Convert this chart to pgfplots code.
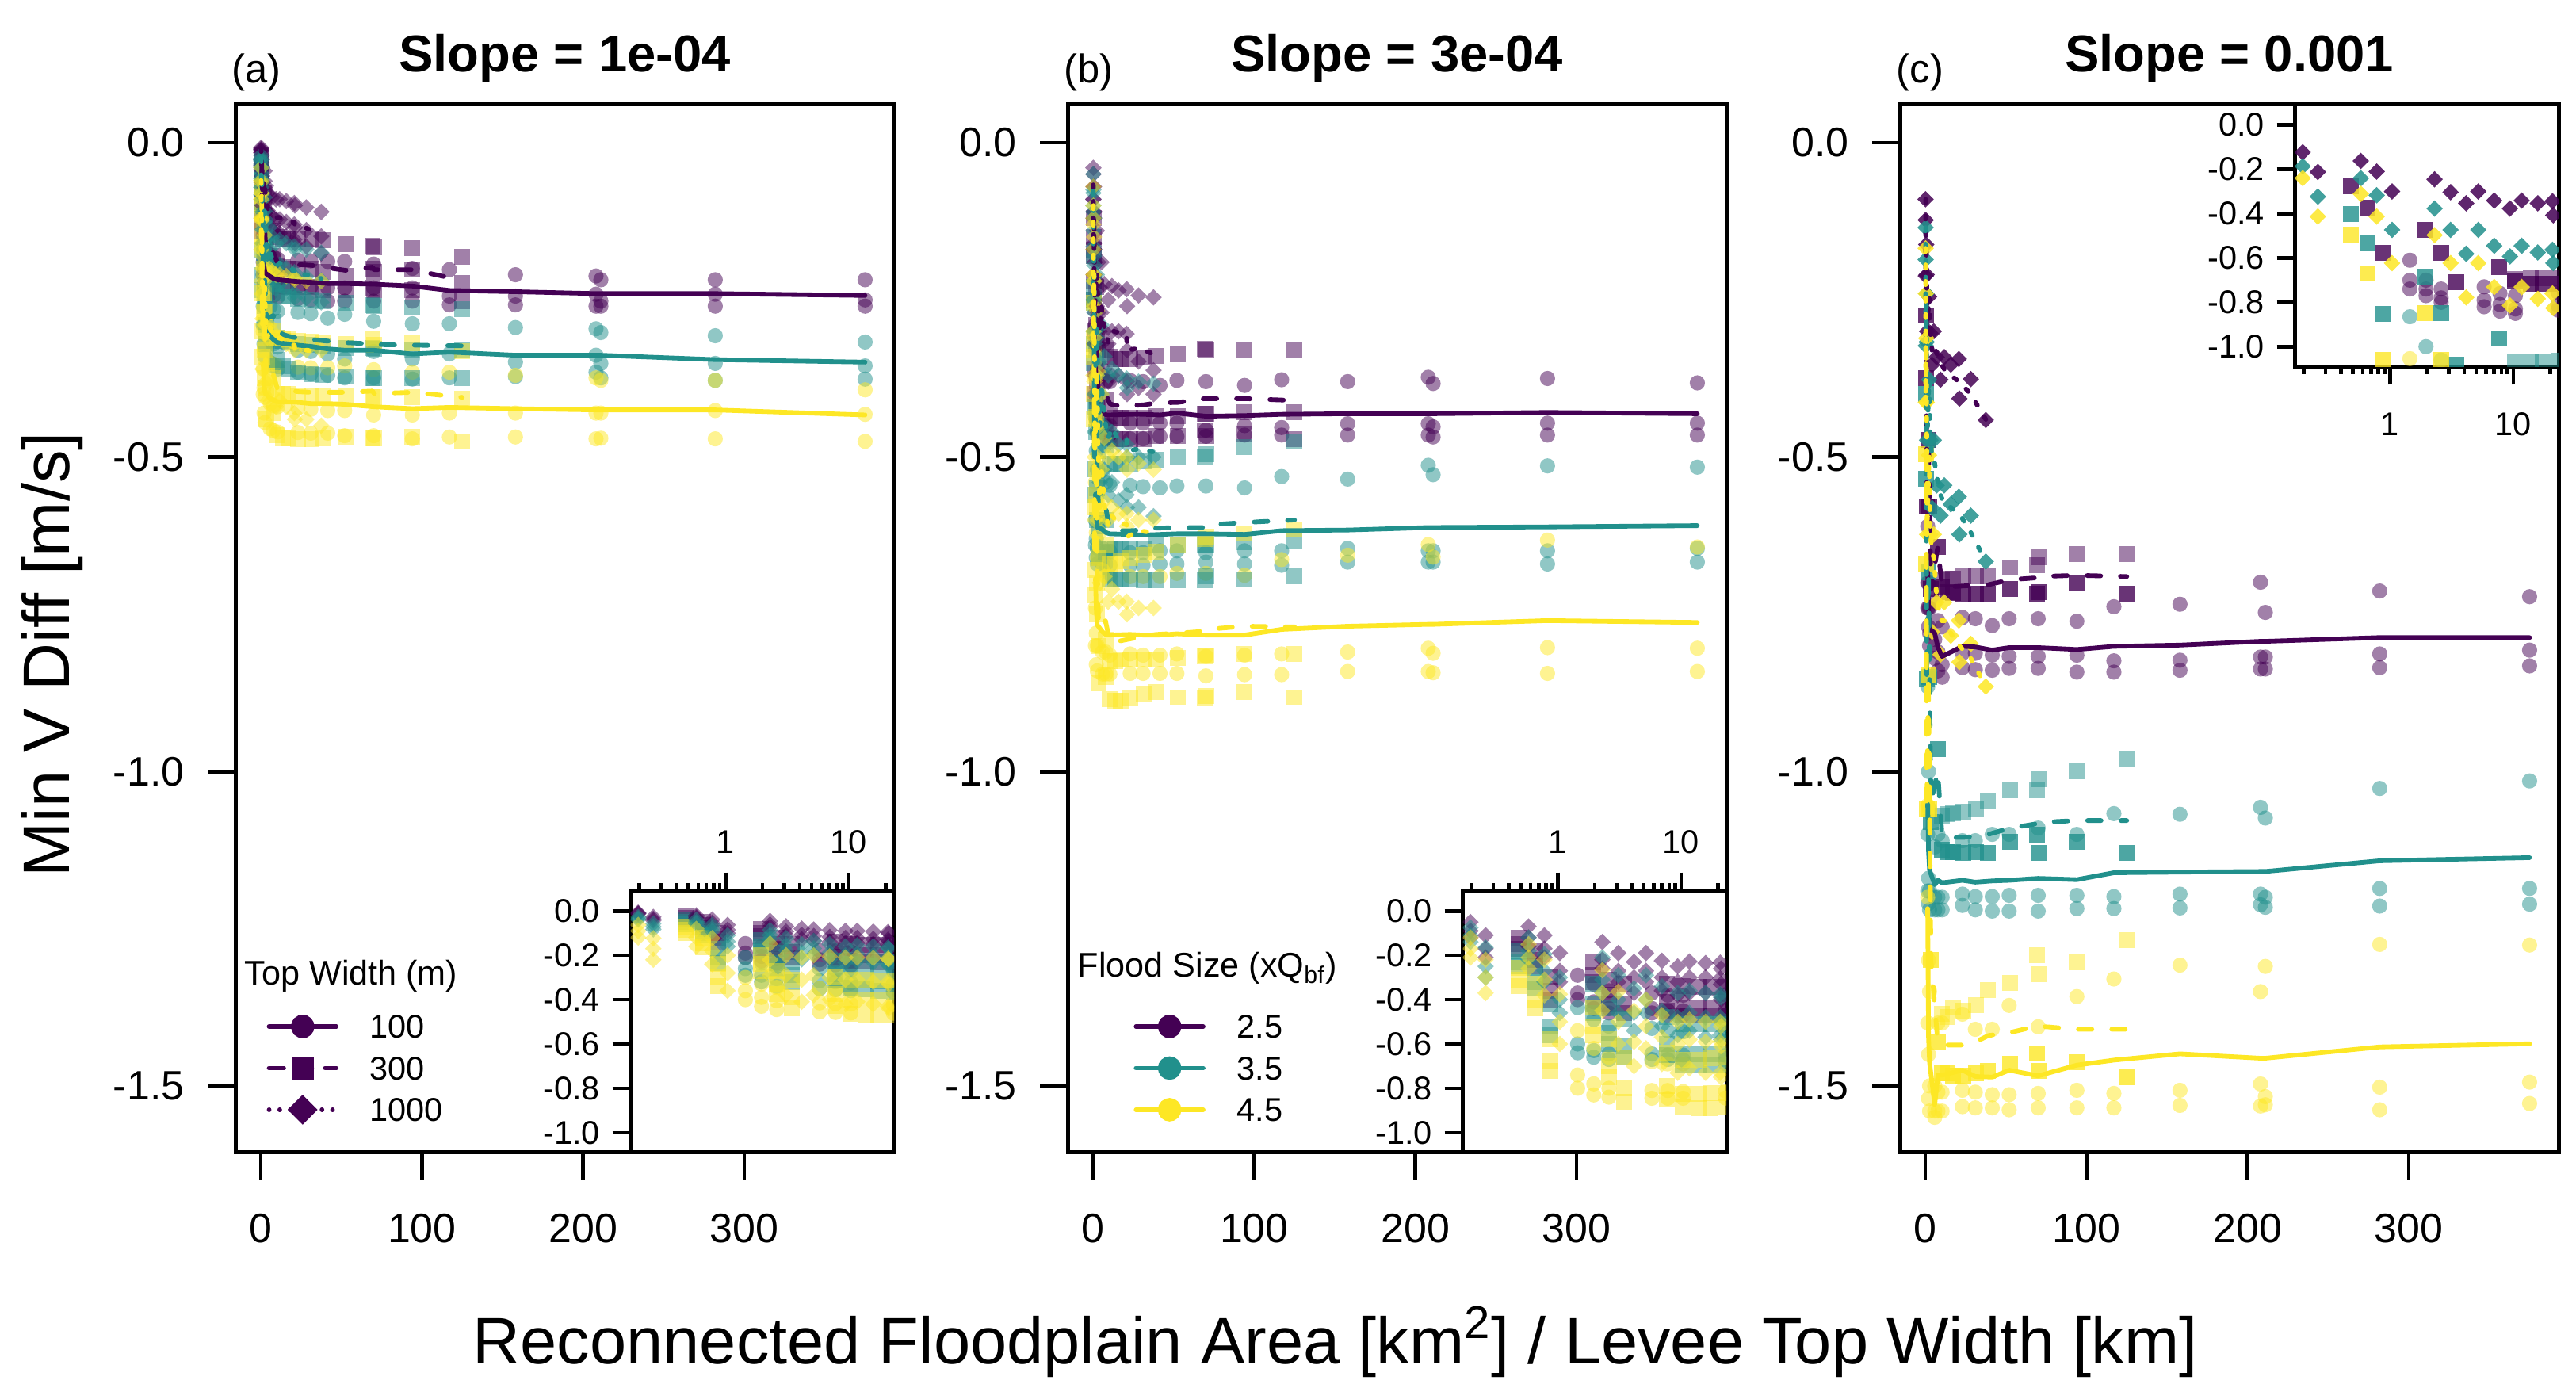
\documentclass[border=0pt]{standalone}
\usepackage{fontspec}
\setmainfont{Liberation Sans}
\usepackage{pgfplots}
\usepackage{pgfplotstable}
\pgfplotsset{compat=1.18}
\definecolor{vpurple}{HTML}{440154}
\definecolor{vteal}{HTML}{21908C}
\definecolor{vyellow}{HTML}{FDE725}

% ---------------- Panel (a): slope 1e-04 ----------------
\pgfplotstableread{
x p1 p2 p3 pl t1 t2 t3 tl y1 y2 y3 yl
1.45 -0.147 -0.19 -0.21 -0.182 -0.21 -0.26 -0.29 -0.253 -0.30 -0.36 -0.40 -0.353
1.96 -0.16 -0.205 -0.225 -0.197 -0.235 -0.29 -0.32 -0.282 -0.33 -0.39 -0.43 -0.383
2.6 -0.172 -0.215 -0.235 -0.207 -0.25 -0.305 -0.34 -0.298 -0.345 -0.405 -0.445 -0.398
5.8 -0.178 -0.22 -0.24 -0.213 -0.26 -0.315 -0.35 -0.308 -0.35 -0.415 -0.455 -0.407
7.8 -0.182 -0.222 -0.243 -0.216 -0.265 -0.32 -0.355 -0.313 -0.352 -0.418 -0.458 -0.409
10.4 -0.185 -0.225 -0.245 -0.218 -0.268 -0.325 -0.36 -0.318 -0.355 -0.42 -0.46 -0.412
23 -0.187 -0.228 -0.248 -0.221 -0.27 -0.33 -0.365 -0.322 -0.357 -0.422 -0.461 -0.413
31 -0.188 -0.229 -0.25 -0.222 -0.272 -0.332 -0.368 -0.324 -0.358 -0.424 -0.462 -0.415
41.5 -0.189 -0.231 -0.252 -0.224 -0.279 -0.336 -0.37 -0.328 -0.358 -0.426 -0.462 -0.415
52 -0.189 -0.231 -0.252 -0.224 -0.273 -0.344 -0.374 -0.33 -0.355 -0.426 -0.466 -0.416
70 -0.193 -0.231 -0.252 -0.225 -0.284 -0.332 -0.374 -0.33 -0.361 -0.433 -0.466 -0.42
94 -0.20 -0.231 -0.252 -0.228 -0.288 -0.344 -0.376 -0.336 -0.365 -0.433 -0.471 -0.423
117 -0.202 -0.244 -0.258 -0.235 -0.288 -0.336 -0.374 -0.333 -0.365 -0.43 -0.468 -0.421
158 -0.21 -0.244 -0.258 -0.237 -0.294 -0.349 -0.372 -0.338 -0.37 -0.43 -0.468 -0.423
208 -0.212 -0.241 -0.26 -0.24 -0.296 -0.338 -0.365 -0.338 -0.374 -0.43 -0.471 -0.425
211 -0.218 -0.252 -0.26 -0.24 -0.302 -0.351 -0.374 -0.338 -0.378 -0.43 -0.47 -0.425
282 -0.218 -0.241 -0.26 -0.24 -0.307 -0.351 -0.378 -0.345 -0.378 -0.426 -0.471 -0.425
375 -0.218 -0.25 -0.26 -0.243 -0.317 -0.355 -0.376 -0.349 -0.393 -0.432 -0.475 -0.433
}\aC
\pgfplotstableread{
x p1 p2 p3 pl t1 t2 t3 tl y1 y2 y3 yl
0.483 -0.02 -0.03 -0.04 -0.03 -0.04 -0.05 -0.06 -0.05 -0.07 -0.085 -0.10 -0.085
0.653 -0.05 -0.065 -0.075 -0.063 -0.08 -0.10 -0.11 -0.097 -0.12 -0.145 -0.165 -0.143
0.867 -0.10 -0.125 -0.14 -0.122 -0.17 -0.21 -0.235 -0.205 -0.24 -0.30 -0.34 -0.293
1.93 -0.08 -0.10 -0.115 -0.098 -0.13 -0.16 -0.18 -0.157 -0.20 -0.24 -0.27 -0.237
2.6 -0.12 -0.15 -0.17 -0.147 -0.19 -0.235 -0.26 -0.228 -0.27 -0.33 -0.375 -0.325
3.47 -0.15 -0.185 -0.21 -0.182 -0.23 -0.29 -0.32 -0.28 -0.31 -0.39 -0.44 -0.38
7.67 -0.14 -0.18 -0.205 -0.175 -0.225 -0.285 -0.315 -0.275 -0.30 -0.375 -0.43 -0.368
10.3 -0.15 -0.195 -0.225 -0.19 -0.24 -0.31 -0.345 -0.298 -0.31 -0.40 -0.465 -0.392
13.8 -0.152 -0.198 -0.228 -0.193 -0.245 -0.315 -0.355 -0.305 -0.312 -0.40 -0.47 -0.394
17.3 -0.152 -0.20 -0.23 -0.194 -0.245 -0.318 -0.36 -0.308 -0.313 -0.40 -0.47 -0.394
23.3 -0.153 -0.20 -0.23 -0.194 -0.248 -0.32 -0.365 -0.311 -0.315 -0.402 -0.472 -0.396
31.3 -0.154 -0.20 -0.23 -0.195 -0.25 -0.322 -0.368 -0.313 -0.316 -0.402 -0.472 -0.397
39 -0.155 -0.205 -0.235 -0.198 -0.252 -0.324 -0.37 -0.315 -0.318 -0.402 -0.47 -0.397
52.7 -0.162 -0.212 -0.235 -0.203 -0.255 -0.326 -0.372 -0.318 -0.32 -0.404 -0.468 -0.397
69.3 -0.164 -0.20 -0.231 -0.198 -0.258 -0.327 -0.374 -0.32 -0.311 -0.405 -0.47 -0.395
70.3 -0.166 -0.205 -0.235 -0.202 -0.26 -0.328 -0.374 -0.321 -0.322 -0.405 -0.47 -0.399
94 -0.168 -0.202 -0.235 -0.202 -0.262 -0.33 -0.374 -0.322 -0.319 -0.405 -0.468 -0.397
125 -0.181 -0.223 -0.252 -0.219 -0.265 -0.33 -0.374 -0.323 -0.332 -0.407 -0.475 -0.405
}\aS
\pgfplotstableread{
x p1 p2 p3 pl t1 t2 t3 tl y1 y2 y3 yl
0.145 -0.01 -0.013 -0.016 -0.013 -0.02 -0.025 -0.029 -0.025 -0.04 -0.06 -0.08 -0.06
0.196 -0.008 -0.011 -0.013 -0.011 -0.027 -0.034 -0.039 -0.033 -0.063 -0.09 -0.12 -0.091
0.26 -0.027 -0.036 -0.043 -0.035 -0.057 -0.071 -0.083 -0.07 -0.123 -0.17 -0.22 -0.171
0.58 -0.02 -0.027 -0.032 -0.026 -0.04 -0.05 -0.058 -0.049 -0.081 -0.12 -0.16 -0.12
0.78 -0.039 -0.053 -0.062 -0.051 -0.063 -0.079 -0.091 -0.078 -0.123 -0.18 -0.24 -0.181
1.04 -0.063 -0.085 -0.10 -0.083 -0.11 -0.138 -0.16 -0.136 -0.20 -0.28 -0.36 -0.28
2.3 -0.045 -0.061 -0.072 -0.059 -0.087 -0.109 -0.126 -0.107 -0.147 -0.22 -0.29 -0.219
3.1 -0.069 -0.093 -0.11 -0.091 -0.123 -0.154 -0.178 -0.152 -0.20 -0.29 -0.38 -0.29
4.15 -0.08 -0.108 -0.128 -0.105 -0.15 -0.188 -0.218 -0.185 -0.21 -0.31 -0.41 -0.31
5.2 -0.084 -0.113 -0.134 -0.11 -0.135 -0.169 -0.196 -0.167 -0.20 -0.29 -0.38 -0.29
7.0 -0.087 -0.117 -0.139 -0.114 -0.15 -0.188 -0.218 -0.185 -0.205 -0.30 -0.40 -0.302
9.4 -0.09 -0.122 -0.144 -0.119 -0.16 -0.20 -0.232 -0.197 -0.21 -0.31 -0.42 -0.313
11.7 -0.09 -0.122 -0.144 -0.119 -0.155 -0.194 -0.225 -0.191 -0.21 -0.31 -0.41 -0.31
15.8 -0.093 -0.126 -0.149 -0.123 -0.16 -0.20 -0.232 -0.197 -0.212 -0.32 -0.42 -0.317
20.8 -0.096 -0.13 -0.154 -0.127 -0.165 -0.206 -0.239 -0.203 -0.215 -0.32 -0.43 -0.322
21.1 -0.10 -0.135 -0.16 -0.132 -0.17 -0.213 -0.247 -0.21 -0.218 -0.33 -0.44 -0.329
28.2 -0.103 -0.139 -0.165 -0.136 -0.17 -0.213 -0.247 -0.21 -0.22 -0.33 -0.44 -0.33
37.5 -0.11 -0.149 -0.176 -0.145 -0.175 -0.219 -0.254 -0.216 -0.22 -0.33 -0.45 -0.333
}\aD

% ---------------- Panel (b): slope 3e-04 ----------------
\pgfplotstableread{
x p1 p2 p3 pl t1 t2 t3 tl y1 y2 y3 yl
1.45 -0.29 -0.37 -0.40 -0.353 -0.436 -0.60 -0.64 -0.559 -0.54 -0.74 -0.80 -0.693
1.96 -0.33 -0.41 -0.44 -0.393 -0.49 -0.63 -0.66 -0.593 -0.62 -0.78 -0.83 -0.743
2.6 -0.36 -0.44 -0.46 -0.42 -0.52 -0.645 -0.67 -0.612 -0.66 -0.80 -0.84 -0.767
5.8 -0.37 -0.44 -0.46 -0.423 -0.53 -0.645 -0.67 -0.615 -0.68 -0.81 -0.845 -0.778
7.8 -0.38 -0.45 -0.47 -0.433 -0.54 -0.65 -0.67 -0.62 -0.69 -0.81 -0.845 -0.782
10.4 -0.38 -0.45 -0.47 -0.433 -0.545 -0.65 -0.672 -0.622 -0.69 -0.815 -0.845 -0.783
23 -0.378 -0.446 -0.471 -0.432 -0.545 -0.652 -0.672 -0.623 -0.69 -0.813 -0.844 -0.782
31 -0.38 -0.446 -0.471 -0.432 -0.547 -0.652 -0.672 -0.624 -0.69 -0.815 -0.844 -0.783
41.5 -0.386 -0.446 -0.467 -0.433 -0.549 -0.649 -0.67 -0.623 -0.69 -0.815 -0.844 -0.783
52 -0.378 -0.446 -0.467 -0.43 -0.546 -0.649 -0.67 -0.622 -0.685 -0.813 -0.844 -0.781
70 -0.38 -0.457 -0.467 -0.435 -0.546 -0.652 -0.667 -0.622 -0.685 -0.817 -0.848 -0.783
94 -0.386 -0.45 -0.465 -0.434 -0.549 -0.649 -0.67 -0.623 -0.688 -0.815 -0.846 -0.783
117 -0.377 -0.453 -0.465 -0.432 -0.531 -0.649 -0.672 -0.617 -0.663 -0.813 -0.846 -0.774
158 -0.38 -0.447 -0.465 -0.431 -0.535 -0.645 -0.667 -0.616 -0.656 -0.81 -0.841 -0.769
208 -0.373 -0.447 -0.465 -0.431 -0.513 -0.649 -0.667 -0.612 -0.639 -0.804 -0.841 -0.766
211 -0.383 -0.452 -0.468 -0.431 -0.528 -0.649 -0.667 -0.612 -0.659 -0.812 -0.843 -0.766
282 -0.375 -0.446 -0.465 -0.429 -0.514 -0.649 -0.67 -0.611 -0.632 -0.803 -0.844 -0.76
375 -0.382 -0.446 -0.465 -0.431 -0.516 -0.645 -0.667 -0.609 -0.643 -0.804 -0.841 -0.763
}\bC
\pgfplotstableread{
x p1 p2 p3 pl t1 t2 t3 tl y1 y2 y3 yl
0.483 -0.12 -0.15 -0.17 -0.147 -0.18 -0.23 -0.25 -0.22 -0.255 -0.31 -0.34 -0.302
0.653 -0.18 -0.22 -0.25 -0.217 -0.255 -0.32 -0.35 -0.308 -0.33 -0.40 -0.44 -0.39
0.867 -0.30 -0.36 -0.40 -0.353 -0.42 -0.52 -0.56 -0.50 -0.58 -0.68 -0.72 -0.66
1.93 -0.23 -0.29 -0.32 -0.28 -0.33 -0.42 -0.46 -0.403 -0.436 -0.52 -0.56 -0.505
2.6 -0.31 -0.38 -0.42 -0.37 -0.44 -0.55 -0.60 -0.53 -0.58 -0.70 -0.75 -0.677
3.47 -0.33 -0.42 -0.46 -0.403 -0.49 -0.61 -0.66 -0.587 -0.66 -0.80 -0.86 -0.773
7.67 -0.33 -0.41 -0.45 -0.397 -0.48 -0.60 -0.65 -0.577 -0.64 -0.79 -0.85 -0.76
10.3 -0.34 -0.435 -0.47 -0.415 -0.51 -0.645 -0.695 -0.617 -0.67 -0.825 -0.885 -0.793
13.8 -0.344 -0.438 -0.471 -0.418 -0.51 -0.645 -0.695 -0.617 -0.67 -0.825 -0.888 -0.794
17.3 -0.344 -0.438 -0.471 -0.418 -0.51 -0.645 -0.695 -0.617 -0.665 -0.822 -0.888 -0.792
23.3 -0.344 -0.438 -0.471 -0.418 -0.51 -0.645 -0.695 -0.617 -0.66 -0.822 -0.884 -0.789
31.3 -0.342 -0.438 -0.471 -0.417 -0.507 -0.645 -0.696 -0.616 -0.655 -0.822 -0.878 -0.785
39 -0.339 -0.435 -0.467 -0.414 -0.504 -0.64 -0.696 -0.613 -0.65 -0.822 -0.873 -0.782
52.7 -0.337 -0.435 -0.467 -0.413 -0.499 -0.64 -0.696 -0.612 -0.64 -0.819 -0.882 -0.78
69.3 -0.328 -0.431 -0.457 -0.407 -0.499 -0.64 -0.696 -0.612 -0.63 -0.817 -0.884 -0.777
70.3 -0.33 -0.431 -0.467 -0.407 -0.495 -0.64 -0.69 -0.608 -0.626 -0.815 -0.88 -0.774
94 -0.33 -0.428 -0.464 -0.407 -0.484 -0.635 -0.694 -0.604 -0.621 -0.813 -0.873 -0.769
125 -0.33 -0.428 -0.471 -0.41 -0.475 -0.634 -0.69 -0.60 -0.615 -0.813 -0.882 -0.77
}\bS
\pgfplotstableread{
x p1 p2 p3 pl t1 t2 t3 tl y1 y2 y3 yl
0.145 -0.04 -0.07 -0.09 -0.067 -0.05 -0.08 -0.10 -0.077 -0.07 -0.10 -0.13 -0.10
0.196 -0.05 -0.09 -0.12 -0.087 -0.075 -0.11 -0.14 -0.108 -0.12 -0.17 -0.21 -0.167
0.26 -0.11 -0.17 -0.21 -0.163 -0.165 -0.25 -0.30 -0.238 -0.22 -0.30 -0.37 -0.297
0.58 -0.07 -0.12 -0.16 -0.117 -0.12 -0.18 -0.22 -0.173 -0.15 -0.21 -0.26 -0.207
0.78 -0.11 -0.17 -0.21 -0.163 -0.195 -0.27 -0.32 -0.262 -0.22 -0.31 -0.38 -0.303
1.04 -0.19 -0.27 -0.32 -0.26 -0.30 -0.40 -0.46 -0.387 -0.376 -0.50 -0.60 -0.492
2.3 -0.14 -0.22 -0.26 -0.207 -0.21 -0.31 -0.37 -0.297 -0.267 -0.37 -0.45 -0.362
3.1 -0.19 -0.27 -0.32 -0.26 -0.29 -0.40 -0.46 -0.383 -0.364 -0.50 -0.60 -0.488
4.15 -0.23 -0.30 -0.37 -0.30 -0.35 -0.46 -0.54 -0.45 -0.45 -0.59 -0.70 -0.58
5.2 -0.19 -0.27 -0.32 -0.26 -0.29 -0.40 -0.46 -0.383 -0.40 -0.52 -0.62 -0.513
7.0 -0.225 -0.30 -0.36 -0.295 -0.34 -0.45 -0.52 -0.437 -0.47 -0.57 -0.69 -0.577
9.4 -0.25 -0.32 -0.38 -0.317 -0.37 -0.48 -0.56 -0.47 -0.50 -0.60 -0.73 -0.61
11.7 -0.228 -0.30 -0.37 -0.299 -0.36 -0.46 -0.54 -0.453 -0.49 -0.58 -0.71 -0.593
15.8 -0.235 -0.30 -0.37 -0.302 -0.37 -0.48 -0.569 -0.473 -0.50 -0.59 -0.73 -0.607
20.8 -0.233 -0.304 -0.38 -0.306 -0.375 -0.48 -0.56 -0.472 -0.50 -0.59 -0.73 -0.607
21.1 -0.26 -0.33 -0.40 -0.33 -0.39 -0.50 -0.58 -0.49 -0.52 -0.61 -0.75 -0.627
28.2 -0.243 -0.348 -0.39 -0.327 -0.38 -0.50 -0.58 -0.487 -0.51 -0.60 -0.74 -0.617
37.5 -0.246 -0.362 -0.40 -0.336 -0.383 -0.50 -0.594 -0.492 -0.52 -0.60 -0.74 -0.62
}\bD

% ---------------- Panel (c): slope 0.001 ----------------
\pgfplotstableread{
x p1 p2 p3 pl t1 t2 t3 tl y1 y2 y3 yl
1.45 -0.61 -0.70 -0.74 -0.683 -0.865 -1.10 -1.19 -1.052 -1.054 -1.20 -1.40 -1.218
1.96 -0.70 -0.74 -0.77 -0.737 -1.00 -1.17 -1.21 -1.127 -1.30 -1.45 -1.52 -1.423
2.6 -0.74 -0.78 -0.80 -0.773 -1.06 -1.19 -1.22 -1.157 -1.35 -1.50 -1.54 -1.463
5.8 -0.73 -0.79 -0.82 -0.78 -1.12 -1.20 -1.22 -1.18 -1.50 -1.54 -1.55 -1.53
7.8 -0.76 -0.81 -0.84 -0.803 -1.10 -1.20 -1.22 -1.173 -1.40 -1.51 -1.54 -1.483
10.4 -0.77 -0.83 -0.85 -0.817 -1.11 -1.20 -1.22 -1.177 -1.40 -1.51 -1.54 -1.483
23 -0.755 -0.812 -0.835 -0.801 -1.11 -1.195 -1.213 -1.173 -1.386 -1.507 -1.533 -1.475
31 -0.757 -0.812 -0.838 -0.802 -1.11 -1.199 -1.22 -1.176 -1.41 -1.51 -1.535 -1.485
41.5 -0.768 -0.815 -0.839 -0.807 -1.10 -1.199 -1.222 -1.174 -1.41 -1.514 -1.535 -1.486
52 -0.757 -0.817 -0.836 -0.803 -1.10 -1.197 -1.222 -1.173 -1.372 -1.514 -1.538 -1.475
70 -0.757 -0.817 -0.836 -0.803 -1.09 -1.197 -1.222 -1.17 -1.406 -1.512 -1.535 -1.484
94 -0.761 -0.815 -0.842 -0.806 -1.10 -1.197 -1.218 -1.172 -1.358 -1.507 -1.535 -1.467
117 -0.738 -0.824 -0.842 -0.801 -1.067 -1.199 -1.218 -1.161 -1.33 -1.512 -1.535 -1.459
158 -0.734 -0.823 -0.839 -0.799 -1.068 -1.195 -1.217 -1.16 -1.308 -1.507 -1.531 -1.449
208 -0.699 -0.818 -0.837 -0.793 -1.057 -1.195 -1.212 -1.159 -1.35 -1.497 -1.532 -1.456
211 -0.747 -0.818 -0.837 -0.793 -1.074 -1.20 -1.216 -1.159 -1.31 -1.517 -1.53 -1.456
282 -0.713 -0.813 -0.835 -0.787 -1.027 -1.186 -1.214 -1.142 -1.275 -1.502 -1.538 -1.438
375 -0.722 -0.807 -0.832 -0.787 -1.015 -1.186 -1.211 -1.137 -1.276 -1.494 -1.528 -1.433
}\cC
\pgfplotstableread{
x p1 p2 p3 pl t1 t2 t3 tl y1 y2 y3 yl
0.483 -0.275 nan nan -0.275 -0.40 nan nan -0.40 -0.495 nan nan -0.495
0.653 -0.374 nan nan -0.374 -0.535 nan nan -0.535 -0.67 nan nan -0.67
0.867 -0.578 nan nan -0.578 -0.854 nan nan -0.854 -1.06 nan nan -1.06
1.93 -0.473 nan nan -0.473 -0.683 nan nan -0.683 -0.847 nan nan -0.847
2.6 -0.578 nan nan -0.578 -0.85 nan nan -0.85 -1.06 nan nan -1.06
3.47 -0.71 nan nan -0.71 -1.08 nan nan -1.05 -1.30 nan nan -1.30
7.67 -0.643 nan nan -0.643 -0.964 nan nan -1.0 -1.43 nan nan -1.43
10.3 -0.707 -0.695 nan -0.705 -1.125 -1.07 nan -1.10 -1.48 -1.385 nan -1.435
13.8 -0.715 -0.693 nan -0.706 -1.128 -1.068 nan -1.10 -1.48 -1.39 nan -1.435
17.3 -0.716 -0.693 nan -0.706 -1.128 -1.066 nan -1.105 -1.484 -1.375 nan -1.435
23.3 -0.718 -0.69 nan -0.705 -1.13 -1.064 nan -1.105 -1.484 -1.38 nan -1.435
31.3 -0.717 -0.69 nan -0.704 -1.128 -1.06 nan -1.103 -1.48 -1.372 nan -1.43
39 -0.717 -0.69 nan -0.703 -1.13 -1.046 nan -1.10 -1.476 -1.348 nan -1.42
52.7 -0.71 -0.676 nan -0.695 -1.112 -1.03 nan -1.09 -1.465 -1.336 nan -1.415
69.3 -0.717 -0.672 nan -0.692 -1.10 -1.03 nan -1.083 -1.448 -1.292 nan -1.405
70.3 -0.715 -0.659 nan -0.69 -1.13 -1.012 nan -1.081 -1.476 -1.323 nan -1.405
94 -0.70 -0.654 nan -0.688 -1.112 -1.0 nan -1.078 -1.462 -1.303 nan -1.41
125 -0.717 -0.654 nan -0.69 -1.13 -0.979 nan -1.078 -1.486 -1.268 nan -1.41
}\cS
\pgfplotstableread{
x p1 p2 p3 pl t1 t2 t3 tl y1 y2 y3 yl
0.145 -0.09 nan nan -0.09 -0.135 nan nan -0.135 -0.168 nan nan -0.168
0.196 -0.123 nan nan -0.123 -0.186 nan nan -0.186 -0.24 nan nan -0.24
0.26 -0.212 nan nan -0.212 -0.323 nan nan -0.323 -0.413 nan nan -0.413
0.58 -0.162 nan nan -0.162 -0.24 nan nan -0.24 -0.311 nan nan -0.311
0.78 -0.21 nan nan -0.21 -0.317 nan nan -0.317 -0.413 nan nan -0.413
1.04 -0.30 nan nan -0.30 -0.473 nan nan -0.473 -0.623 nan nan -0.623
2.3 -0.245 nan nan -0.245 -0.377 nan nan -0.377 -0.497 nan nan -0.497
3.1 -0.303 nan nan -0.303 -0.473 nan nan -0.473 -0.623 nan nan -0.623
4.15 -0.353 nan nan -0.33 -0.581 nan nan -0.50 -0.778 nan nan -0.65
5.2 -0.30 nan nan -0.32 -0.473 nan nan -0.50 -0.623 nan nan -0.66
7.0 -0.341 nan nan -0.335 -0.545 nan nan -0.53 -0.731 nan nan -0.72
9.4 -0.377 nan nan -0.35 -0.593 nan nan -0.56 -0.814 nan nan -0.76
11.7 -0.341 nan nan -0.36 -0.545 nan nan -0.575 -0.731 nan nan -0.76
15.8 -0.353 nan nan -0.37 -0.575 nan nan -0.58 -0.784 nan nan -0.78
20.8 -0.344 nan nan -0.38 -0.563 nan nan -0.59 -0.76 nan nan -0.80
21.1 -0.407 nan nan -0.38 -0.623 nan nan -0.59 -0.826 nan nan -0.80
28.2 -0.376 nan nan -0.40 -0.593 nan nan -0.62 -0.797 nan nan -0.82
37.5 -0.441 nan nan -0.44 -0.666 nan nan -0.666 -0.865 nan nan -0.865
}\cD

\pgfplotsset{
  mC/.style={mark=*, mark size=2.3bp},
  mS/.style={mark=square*, mark size=2.4bp},
  mD/.style={mark=diamond*, mark size=2.5bp, every mark/.append style={xscale=1.333}},
  ldash/.style={dash pattern=on 4.1bp off 6bp},
  ldot/.style={dash pattern=on 1bp off 4bp},
  mainax/.style={
    scale only axis, width=199.44bp, height=317.28bp,
    xmin=-15.8, xmax=393, ymin=-1.606, ymax=0.0605,
    xtick={0,100,200,300}, xticklabels={0,100,200,300},
    ytick={0,-0.5,-1,-1.5}, yticklabels={0.0,-0.5,-1.0,-1.5},
    tick align=outside, xtick pos=left, ytick pos=left,
    major tick length=8.4bp,
    major tick style={black, line width=1.1bp},
    axis line style={black, line width=1.2bp},
    tick label style={font=\fontsize{12.5}{15}\selectfont},
    xticklabel style={yshift=-6.6bp},
    yticklabel style={xshift=-3.6bp},
    clip marker paths=true,
  },
  insetax/.style={
    scale only axis, width=79.78bp, height=79.32bp,
    xmin=0.17, xmax=23.3, ymin=-1.09, ymax=0.092,
    xtick={1,10}, xticklabels={1,10},
    minor xtick={0.2,0.3,0.4,0.5,0.6,0.7,0.8,0.9,2,3,4,5,6,7,8,9,20},
    ytick={0,-0.2,-0.4,-0.6,-0.8,-1}, yticklabels={0.0,-0.2,-0.4,-0.6,-0.8,-1.0},
    tick align=outside, ytick pos=left,
    major tick length=5.5bp, minor tick length=2.2bp,
    major tick style={black, line width=1.1bp},
    minor tick style={black, line width=1.1bp},
    axis line style={black, line width=1.2bp},
    tick label style={font=\fontsize{10}{12}\selectfont},
    yticklabel style={xshift=-0.3bp},
    axis background/.style={fill=white},
    clip marker paths=true,
  },
  legbase/.style={
    legend style={draw=none, fill=none, inner sep=0pt, outer sep=0pt,
      row sep=2.6bp, column sep=9.5bp, font=\fontsize{10}{12}\selectfont,
      cells={anchor=base west},
      nodes={inner sep=0pt, text height=7.5bp, text depth=2.5bp},
      anchor=north west},
    legend image code/.code={\path[draw=none, fill=none] (0bp,0bp) rectangle (20.4bp,7.2bp);
      \draw[mark repeat=2,mark phase=2,##1] plot coordinates {(0bp,3.6bp) (10.2bp,3.6bp) (20.4bp,3.6bp)};},
  },
}

\newcommand\onept[5]{\addplot[forget plot, only marks, color=#3, mark options={color=#3, fill=#3, fill opacity=#5, draw opacity=0}, #4] table[x=x,y=#2]{#1};}
\newcommand\threepts[7]{\onept{#1}{#21}{#3}{#4}{#5}\onept{#1}{#22}{#3}{#4}{#6}\onept{#1}{#23}{#3}{#4}{#7}}
\newcommand\drawpoints[5]{%
  \threepts{#1}{p}{vpurple}{mC}{0.5}{0.5}{0.5}%
  \threepts{#1}{t}{vteal}{mC}{0.5}{0.5}{0.5}%
  \threepts{#1}{y}{vyellow}{mC}{0.5}{0.5}{0.5}%
  \threepts{#2}{p}{vpurple}{mS}{#4}{0.5}{0.5}%
  \threepts{#2}{t}{vteal}{mS}{#4}{0.5}{0.5}%
  \threepts{#2}{y}{vyellow}{mS}{#4}{0.5}{0.5}%
  \threepts{#3}{p}{vpurple}{mD}{#5}{#5}{#5}%
  \threepts{#3}{t}{vteal}{mD}{#5}{#5}{#5}%
  \threepts{#3}{y}{vyellow}{mD}{#5}{#5}{#5}}
\newcommand\oneline[4]{\addplot[forget plot, no marks, #3, line width=1.4bp, line cap=round, line join=round, #4] table[x=x,y=#2]{#1};}
\newcommand\drawlines[3]{%
  \oneline{#1}{pl}{vpurple}{solid}\oneline{#1}{tl}{vteal}{solid}\oneline{#1}{yl}{vyellow}{solid}%
  \oneline{#2}{pl}{vpurple}{ldash}\oneline{#2}{tl}{vteal}{ldash}\oneline{#2}{yl}{vyellow}{ldash}%
  \oneline{#3}{pl}{vpurple}{ldot}\oneline{#3}{tl}{vteal}{ldot}\oneline{#3}{yl}{vyellow}{ldot}}
\newcommand\paneltitle[2]{%
  \node[anchor=base, inner sep=0pt, font=\fontsize{15.7}{18}\selectfont\bfseries, yshift=9.9bp] at (0.5,1) {#1};
  \node[anchor=base west, inner sep=0pt, font=\fontsize{12.2}{14}\selectfont, xshift=-1.2bp, yshift=6.5bp] at (0,1) {#2};}

\begin{document}
\begin{tikzpicture}
\useasboundingbox (0,0) rectangle (780bp,420bp);

% ---------- (a) ----------
\begin{axis}[mainax, legbase, at={(71.28bp,71.04bp)}, anchor=south west,
  legend style={at={(0.0477,0.1326)}},
  extra description/.code={
    \paneltitle{Slope = 1e-04}{(a)}
    \node[anchor=base west, inner sep=0pt, font=\fontsize{10.4}{12}\selectfont] at (0.0131,0.1603) {Top Width (m)};
  }]
\drawpoints{\aC}{\aS}{\aD}{0.5}{0.5}
\drawlines{\aC}{\aS}{\aD}
\addlegendimage{vpurple, line width=1.3bp, line cap=round, solid, mark=*, mark size=2.9bp, mark options={solid}}
\addlegendentry{100}
\addlegendimage{vpurple, line width=1.3bp, line cap=round, dash pattern=on 4.5bp off 4bp, mark=square*, mark size=2.75bp, mark options={solid}}
\addlegendentry{300}
\addlegendimage{vpurple, line width=1.3bp, line cap=round, dash pattern=on 0.1bp off 3.1bp, mark=diamond*, mark size=3.6bp, mark options={solid, xscale=1.333}}
\addlegendentry{1000}
\end{axis}
\begin{semilogxaxis}[insetax, xtick pos=right, xticklabel pos=right, xticklabel style={yshift=2.2bp},
  at={(270.72bp,71.04bp)}, anchor=south east]
\drawpoints{\aC}{\aS}{\aD}{0.5}{0.5}
\end{semilogxaxis}

% ---------- (b) ----------
\begin{axis}[mainax, legbase, at={(323.28bp,71.04bp)}, anchor=south west,
  legend style={at={(0.1004,0.1326)}},
  extra description/.code={
    \paneltitle{Slope = 3e-04}{(b)}
    \node[anchor=base west, inner sep=0pt, font=\fontsize{10.4}{12}\selectfont] at (0.0146,0.1672) {Flood Size (xQ\textsubscript{bf})};
  }]
\drawpoints{\bC}{\bS}{\bD}{0.5}{0.5}
\drawlines{\bC}{\bS}{\bD}
\addlegendimage{vpurple, line width=1.3bp, line cap=round, solid, mark=*, mark size=2.9bp}
\addlegendentry{2.5}
\addlegendimage{vteal, line width=1.3bp, line cap=round, solid, mark=*, mark size=2.9bp}
\addlegendentry{3.5}
\addlegendimage{vyellow, line width=1.3bp, line cap=round, solid, mark=*, mark size=2.9bp}
\addlegendentry{4.5}
\end{axis}
\begin{semilogxaxis}[insetax, xtick pos=right, xticklabel pos=right, xticklabel style={yshift=2.2bp},
  at={(522.72bp,71.04bp)}, anchor=south east]
\drawpoints{\bC}{\bS}{\bD}{0.5}{0.5}
\end{semilogxaxis}

% ---------- (c) ----------
\begin{axis}[mainax, at={(575.28bp,71.04bp)}, anchor=south west,
  extra description/.code={
    \paneltitle{Slope = 0.001}{(c)}
  }]
\drawpoints{\cC}{\cS}{\cD}{0.8}{0.85}
\drawlines{\cC}{\cS}{\cD}
\end{axis}
\begin{semilogxaxis}[insetax, xtick pos=left, xticklabel pos=left, xticklabel style={yshift=-5bp},
  at={(774.72bp,388.32bp)}, anchor=north east]
\drawpoints{\cC}{\cS}{\cD}{0.8}{0.85}
\end{semilogxaxis}

\node[rotate=90, anchor=base, font=\fontsize{20}{24}\selectfont] at (20.9bp,221.8bp) {Min V Diff [m/s]};
\node[anchor=base, font=\fontsize{20}{24}\selectfont] at (404.3bp,7.2bp) {Reconnected Floodplain Area [km\textsuperscript{2}] / Levee Top Width [km]};
\end{tikzpicture}
\end{document}
